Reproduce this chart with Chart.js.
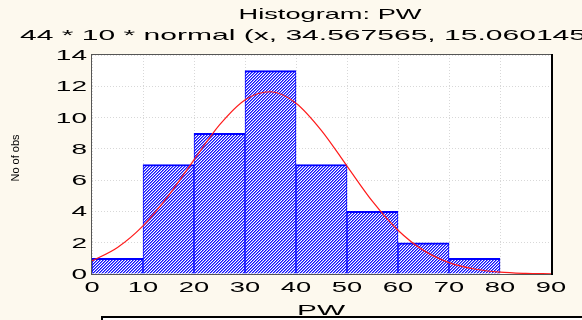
<!DOCTYPE html>
<html>
<head>
<meta charset="utf-8">
<script src="https://cdn.jsdelivr.net/npm/chart.js@4.4.0/dist/chart.umd.min.js"></script>
<style>
  html, body { margin: 0; padding: 0; background: #fdf9ee; }
  #wrap { width: 582px; height: 320px; }
</style>
</head>
<body>
<div id="wrap"><canvas id="histChart" width="582" height="320"></canvas></div>
<script>
// histogram bins (centres) and counts
const binCenters = [5, 15, 25, 35, 45, 55, 65, 75, 85];
const binCounts = [1, 7, 9, 13, 7, 4, 2, 1, 0];

// fitted normal curve
const curveX = [0, 5, 10, 15, 20, 25, 30, 35, 40, 45, 50, 55, 60, 65, 70, 75, 80, 85, 90];
const curveY = [0.84, 1.70, 3.08, 5.01, 7.30, 9.53, 11.13, 11.65, 10.92, 9.17, 6.90, 4.64, 2.80, 1.51, 0.73, 0.32, 0.12, 0.04, 0.01];

const xTickValues = [0, 10, 20, 30, 40, 50, 60, 70, 80, 90];
const yTickValues = [0, 2, 4, 6, 8, 10, 12, 14];

const chartTitle = 'Histogram: PW';
const chartSubtitle = '44 * 10 * normal (x, 34.567565, 15.060145)';
const xAxisLabel = 'PW';
const yAxisLabel = 'No of obs';

const FONT = '"Liberation Sans", Arial, sans-serif';

function makeHatch() {
  const c = document.createElement('canvas');
  c.width = 3; c.height = 3;
  const g = c.getContext('2d');
  g.fillStyle = '#ffffff';
  g.fillRect(0, 0, 3, 3);
  g.fillStyle = '#1010ff';
  for (let i = 0; i < 3; i++) g.fillRect(i, 2 - i, 1, 1);
  g.fillStyle = '#7070ff';
  for (let i = 0; i < 3; i++) g.fillRect(i, (3 - i) % 3, 1, 1);
  return g.createPattern(c, 'repeat');
}

// draw text stretched horizontally by sx
function stretchText(ctx, text, x, y, sx, align) {
  ctx.save();
  ctx.translate(x, y);
  ctx.scale(sx, 1);
  ctx.textAlign = align;
  ctx.fillText(text, 0, 0);
  ctx.restore();
}

const statFrame = {
  id: 'statFrame',
  beforeDraw(chart) {
    const ctx = chart.ctx;
    const a = chart.chartArea;
    ctx.save();
    ctx.fillStyle = '#fdf9ee';
    ctx.fillRect(0, 0, chart.width, chart.height);
    ctx.fillStyle = '#ffffff';
    ctx.fillRect(a.left, a.top, a.right - a.left, a.bottom - a.top);
    ctx.restore();
  },
  afterDraw(chart) {
    const ctx = chart.ctx;
    const a = chart.chartArea;
    const xs = chart.scales.x;
    const ys = chart.scales.y;
    ctx.save();

    // plot frame
    ctx.strokeStyle = '#555555';
    ctx.lineWidth = 1;
    ctx.strokeRect(a.left - 0.5, a.top - 0.5, a.right - a.left + 1, a.bottom - a.top + 1);
    ctx.strokeStyle = '#000000';
    ctx.lineWidth = 2;
    ctx.beginPath();
    ctx.moveTo(a.right + 1, a.top - 1);
    ctx.lineTo(a.right + 1, a.bottom + 1);
    ctx.stroke();

    ctx.fillStyle = '#000000';
    ctx.textBaseline = 'alphabetic';

    // titles
    ctx.font = '15px ' + FONT;
    let w = ctx.measureText(chartTitle).width;
    stretchText(ctx, chartTitle, 330, 19, 183 / w, 'center');
    w = ctx.measureText('44 * 10 * normal (x, 34.567565, 15.060145').width;
    stretchText(ctx, chartSubtitle, 20, 40, 566 / w, 'left');

    // tick labels
    ctx.font = '14px ' + FONT;
    xTickValues.forEach(v => {
      stretchText(ctx, String(v), xs.getPixelForValue(v), 292, 1.95, 'center');
    });
    yTickValues.forEach(v => {
      stretchText(ctx, String(v), 87, ys.getPixelForValue(v) + 5, 2.0, 'right');
    });

    // axis titles
    w = ctx.measureText(xAxisLabel).width;
    stretchText(ctx, xAxisLabel, 321, 315, 48 / w, 'center');

    ctx.font = '10px ' + FONT;
    ctx.save();
    ctx.translate(19, 158);
    ctx.rotate(-Math.PI / 2);
    w = ctx.measureText(yAxisLabel).width;
    ctx.scale(47 / w, 1);
    ctx.textAlign = 'center';
    ctx.fillText(yAxisLabel, 0, 0);
    ctx.restore();

    // legend box cut off at the bottom
    ctx.fillStyle = '#ffffff';
    ctx.fillRect(102, 317, 490, 10);
    ctx.strokeStyle = '#000000';
    ctx.lineWidth = 2;
    ctx.strokeRect(102, 317, 490, 10);

    ctx.restore();
  }
};

new Chart(document.getElementById('histChart'), {
  type: 'bar',
  data: {
    datasets: [
      {
        type: 'line',
        data: curveX.map((x, i) => ({ x: x, y: curveY[i] })),
        borderColor: '#ff1a1a',
        borderWidth: 1.2,
        pointRadius: 0,
        cubicInterpolationMode: 'monotone',
        fill: false,
        order: 0
      },
      {
        type: 'bar',
        data: binCenters.map((x, i) => ({ x: x, y: binCounts[i] })),
        backgroundColor: makeHatch(),
        borderColor: '#0000ff',
        borderWidth: { top: 2, left: 1, right: 1, bottom: 0 },
        borderSkipped: false,
        barPercentage: 1,
        categoryPercentage: 1,
        order: 1
      }
    ]
  },
  options: {
    responsive: false,
    animation: false,
    devicePixelRatio: 1,
    layout: { padding: { left: 92, right: 31, top: 55, bottom: 46 } },
    plugins: {
      legend: { display: false },
      tooltip: { enabled: false },
      title: { display: false }
    },
    scales: {
      x: {
        type: 'linear',
        min: 0,
        max: 90,
        offset: false,
        ticks: { display: false, stepSize: 10 },
        grid: { color: '#d8d8d8', drawTicks: false, offset: false },
        border: { display: false, dash: [1, 2] }
      },
      y: {
        min: 0,
        max: 14,
        ticks: { display: false, stepSize: 2 },
        grid: { color: '#d8d8d8', drawTicks: false },
        border: { display: false, dash: [1, 2] }
      }
    }
  },
  plugins: [statFrame]
});
</script>
</body>
</html>
